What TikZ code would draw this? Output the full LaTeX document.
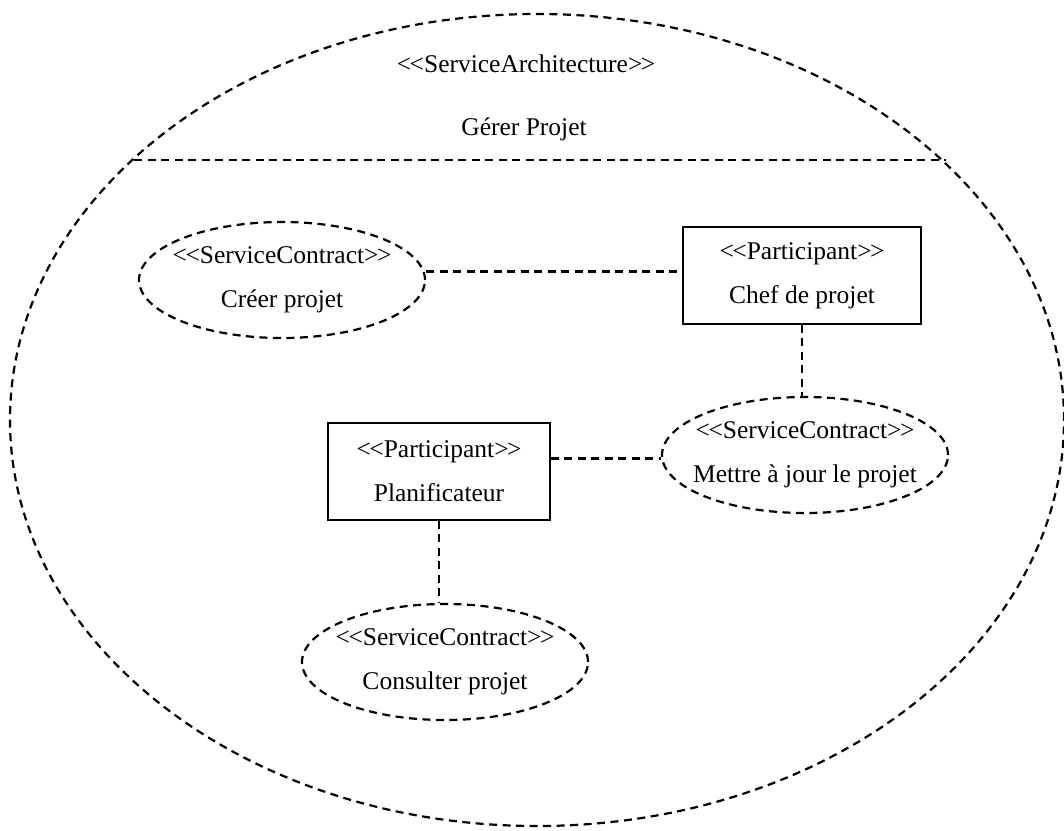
\documentclass[tikz,border=0pt]{standalone}
\usepackage{fontspec}
\setmainfont{Liberation Serif}
\usetikzlibrary{shapes.geometric}

% stereotype text with plain angle brackets (no guillemet ligature)
\newcommand\stereotype[1]{<\kern-1.5pt<#1>\kern-1.5pt>}

\tikzset{
  dashline/.style={line width=2.2pt, dash pattern=on 8pt off 5.5pt},
  lbl/.style={font=\fontsize{25.5}{44}\selectfont, align=center},
  contract/.style={lbl, ellipse, dashline, draw,
                   inner xsep=-40pt, inner ysep=-20pt,
                   minimum width=286pt, minimum height=116pt},
  participant/.style={lbl, rectangle, draw, line width=1.4pt, inner sep=0pt,
                      minimum height=97pt},
  link/.style={dashline}
}

\begin{document}
\begin{tikzpicture}[x=1pt,y=-1pt]
  \useasboundingbox (0,0) rectangle (1064,830);
  \fill[white] (0,0) rectangle (1064,830);

  % service architecture boundary
  \node[ellipse, draw, dashline, inner sep=0pt,
        minimum width=1054pt, minimum height=812pt] (arch) at (537,420) {};
  \node[lbl] (archtype) at (526,64) {\stereotype{ServiceArchitecture}};
  \node[lbl] (archname) at (524,129) {Gérer Projet};
  \coordinate (sepL) at (134,160);
  \coordinate (sepR) at (946,160);
  \draw[link] (sepL) -- (sepR);

  % participants
  \node[participant, minimum width=238pt] (chef) at (802,275.5)
    {\stereotype{Participant}\\Chef de projet};
  \node[participant, minimum width=222pt] (plan) at (439,471.5)
    {\stereotype{Participant}\\Planificateur};

  % service contracts
  \node[contract] (creer) at (282,280)
    {\stereotype{ServiceContract}\\Créer projet};
  \node[contract] (mettre) at (805,455)
    {\stereotype{ServiceContract}\\Mettre à jour le projet};
  \node[contract] (consulter) at (445,662)
    {\stereotype{ServiceContract}\\Consulter projet};

  % connectors
  \coordinate (chefin) at ([yshift=4pt]chef.west);
  \coordinate (planout) at ([yshift=13pt]plan.east);
  \draw[link] (creer.east |- chefin) -- (chefin);
  \draw[link] (chef.south) -- (chef.south |- mettre.north);
  \draw[link] (planout) -- (mettre.west |- planout);
  \draw[link] (plan.south) -- (plan.south |- consulter.north);
\end{tikzpicture}
\end{document}
